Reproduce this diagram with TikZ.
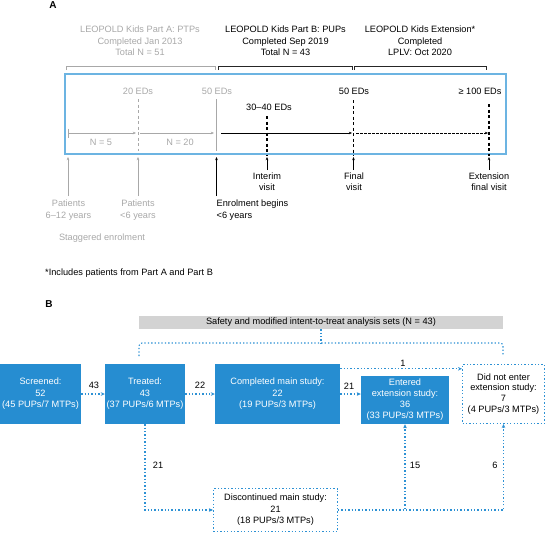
\documentclass[tikz,border=0pt]{standalone}
\usepackage{fontspec}
\setmainfont{Liberation Sans}
\usetikzlibrary{arrows.meta,positioning}
\definecolor{txtgray}{RGB}{168,168,168}
\definecolor{boxblue}{RGB}{38,141,209}
\definecolor{frameblue}{RGB}{108,180,226}
\definecolor{safegray}{RGB}{211,211,211}
\definecolor{dotblue}{RGB}{45,145,212}
\tikzset{
  lbl/.style={inner sep=0pt, font=\fontsize{9.2}{11.5}\selectfont, align=center},
  lblg/.style={lbl, text=txtgray},
  ahead/.style={-{Stealth[length=3.2pt,width=2.6pt]}},
  bhead/.style={-{Stealth[length=4pt,width=3.6pt]}},
  bluebox/.style={fill=boxblue, text=white, inner sep=0pt, lbl},
  dotbox/.style={draw=dotblue, line width=1.1pt, dash pattern=on 1.3pt off 2.1pt, fill=white, text=black, inner sep=0pt, lbl},
  dotline/.style={draw=dotblue, line width=1.1pt, dash pattern=on 1.3pt off 2.1pt},
  bracket/.style={line width=0.7pt},
}
\begin{document}
\begin{tikzpicture}[x=1pt,y=-1pt]
\useasboundingbox (0,0) rectangle (546,533);
% ---------------- Panel A ----------------
\node[lbl, font=\fontsize{10}{12}\selectfont\bfseries] (labA) at (53,5) {A};
\node[lblg] (titA) at (140,41) {LEOPOLD Kids Part A: PTPs\\Completed Jan 2013\\Total N = 51};
\node[lbl] (titB) at (285.5,41) {LEOPOLD Kids Part B: PUPs\\Completed Sep 2019\\Total N = 43};
\node[lbl] (titE) at (420,41) {LEOPOLD Kids Extension*\\Completed\\LPLV: Oct 2020};
% brackets
\draw[bracket, txtgray] (66,70) -- (66,66) -- (215,66) -- (215,70);
\draw[bracket, black!85] (218,70) -- (218,66) -- (352,66) -- (352,70);
\draw[bracket, black!85] (354,70) -- (354,66) -- (486,66) -- (486,70);
% frame
\node[draw=frameblue, line width=1.1pt, minimum width=441pt, minimum height=80pt, inner sep=0pt] (frame) at (285.5,114) {};
% ED labels
\node[lblg] (ed20) at (138,91) {20 EDs};
\node[lblg] (ed50g) at (217,91) {50 EDs};
\node[lbl] (ed30) at (269,107) {30–40 EDs};
\node[lbl] (ed50) at (354,91) {50 EDs};
\node[lbl] (ed100) at (480,91) {≥ 100 EDs};
% vertical markers
\coordinate (v20a) at (138,99); \coordinate (v20b) at (138,151);
\coordinate (v50ga) at (216.5,99); \coordinate (v50gb) at (216.5,151);
\coordinate (v30a) at (267,116); \coordinate (v30b) at (267,156);
\coordinate (v50a) at (353.5,100); \coordinate (v50b) at (353.5,156);
\coordinate (v100a) at (489,104); \coordinate (v100b) at (489,156);
\draw[txtgray, line width=0.8pt, dash pattern=on 3pt off 2.5pt] (v20a) -- (v20b);
\draw[txtgray, line width=0.8pt] (v50ga) -- (v50gb);
\draw[black, line width=1.1pt, dash pattern=on 3pt off 2.5pt] (v30a) -- (v30b);
\draw[black, line width=1.1pt, dash pattern=on 3pt off 2.5pt] (v50a) -- (v50b);
\draw[black, line width=1.1pt, dash pattern=on 3pt off 2.5pt] (v100a) -- (v100b);
% horizontal timeline
\coordinate (h0) at (68,133); \coordinate (h1) at (136,133);
\coordinate (h2) at (140,133); \coordinate (h3) at (214,133);
\coordinate (h4) at (221,133); \coordinate (h5) at (352,133);
\coordinate (h6) at (356,133); \coordinate (h7) at (488,133);
\draw[txtgray, line width=0.7pt] (68,128.5) -- (68,137.5);
\draw[txtgray, line width=0.7pt, ahead] (h0) -- (h1);
\draw[txtgray, line width=0.7pt, ahead] (h2) -- (h3);
\draw[black, line width=0.8pt, ahead] (h4) -- (h5);
\draw[black, line width=0.8pt, dash pattern=on 2.5pt off 1.5pt, ahead] (h6) -- (h7);
\node[lblg] (n5) at (101,142) {N = 5};
\node[lblg] (n20) at (180,142) {N = 20};
% labels below frame
\node[lblg] (pat1) at (68.5,210) {Patients\\6–12 years};
\node[lblg] (pat2) at (138,210) {Patients\\<6 years};
\node[lbl, anchor=west, align=left] (enrol) at (216.5,210) {Enrolment begins\\<6 years};
\node[lbl] (interim) at (267,181.5) {Interim\\visit};
\node[lbl] (final) at (354,181.5) {Final\\visit};
\node[lbl] (extfin) at (489,181.5) {Extension\\final visit};
\node[lblg] (stag) at (102,238) {Staggered enrolment};
\coordinate (pa) at (68,196); \coordinate (pb) at (138,196); \coordinate (ea) at (216.5,196);
\draw[txtgray, line width=0.7pt, ahead] (pa) -- (68,157);
\draw[txtgray, line width=0.7pt, ahead] (pb) -- (138,157);
\draw[black, line width=0.7pt, ahead] (ea) -- (216.5,157);
\draw[black, line width=0.7pt, ahead] ([yshift=2pt]interim.north) -- (267,157);
\draw[black, line width=0.7pt, ahead] ([yshift=2pt]final.north -| 353.5,0) -- (353.5,157);
\draw[black, line width=0.7pt, ahead] ([yshift=2pt]extfin.north -| 489,0) -- (489,157);
\node[lbl, anchor=west] (foot) at (45,273) {*Includes patients from Part A and Part B};
% ---------------- Panel B ----------------
\node[lbl, font=\fontsize{10}{12}\selectfont\bfseries] (labB) at (49,304) {B};
\node[lbl, fill=safegray, minimum width=364pt, minimum height=13pt] (safe) at (321,322.5) {Safety and modified intent-to-treat analysis sets (N = 43)};
\coordinate (brL) at (139,356); \coordinate (brR) at (503,355);
\draw[dotline, rounded corners=3pt] (brL) -- (139,343) -- (503,343) -- (brR);
\draw[dotline] (safe.south) -- (321,343);
% boxes
\node[bluebox, minimum width=81pt, minimum height=60pt] (scr) at (40.5,394) {Screened:\\52\\(45 PUPs/7 MTPs)};
\node[bluebox, minimum width=80pt, minimum height=60pt] (trt) at (145,394) {Treated:\\43\\(37 PUPs/6 MTPs)};
\node[bluebox, minimum width=125pt, minimum height=60pt] (cmp) at (277.5,394) {Completed main study:\\22\\(19 PUPs/3 MTPs)};
\node[bluebox, minimum width=88pt, minimum height=48pt, font=\fontsize{9.2}{11}\selectfont] (ent) at (405,400) {Entered\\extension study:\\36\\(33 PUPs/3 MTPs)};
\node[dotbox, minimum width=82pt, minimum height=59pt, font=\fontsize{9.2}{10.8}\selectfont] (dne) at (503.5,394) {Did not enter\\extension study:\\7\\(4 PUPs/3 MTPs)};
\node[dotbox, minimum width=124pt, minimum height=43pt] (dis) at (275.5,510) {Discontinued main study:\\21\\(18 PUPs/3 MTPs)};
% connectors
\draw[dotline, bhead] (scr) -- (trt);
\draw[dotline, bhead] (trt) -- (cmp);
\draw[dotline, bhead] (cmp.east) -- (cmp.east -| ent.west);
\draw[dotline, bhead] ([yshift=-5pt]cmp.north east) -- ([yshift=-5pt]cmp.north east -| dne.west);
\draw[dotline, bhead] (trt.south) |- (dis.west);
\draw[dotline, bhead] (dis.east) -| (ent.south);
\draw[dotline, bhead] (dis.east) -| (dne.south);
\node[lbl] (l43) at (94,385) {43};
\node[lbl] (l22) at (200,385) {22};
\node[lbl] (l21a) at (349,386) {21};
\node[lbl] (l1) at (403,363) {1};
\node[lbl] (l21b) at (158,465) {21};
\node[lbl] (l15) at (415,465) {15};
\node[lbl] (l6) at (495,465) {6};
\end{tikzpicture}
\end{document}
